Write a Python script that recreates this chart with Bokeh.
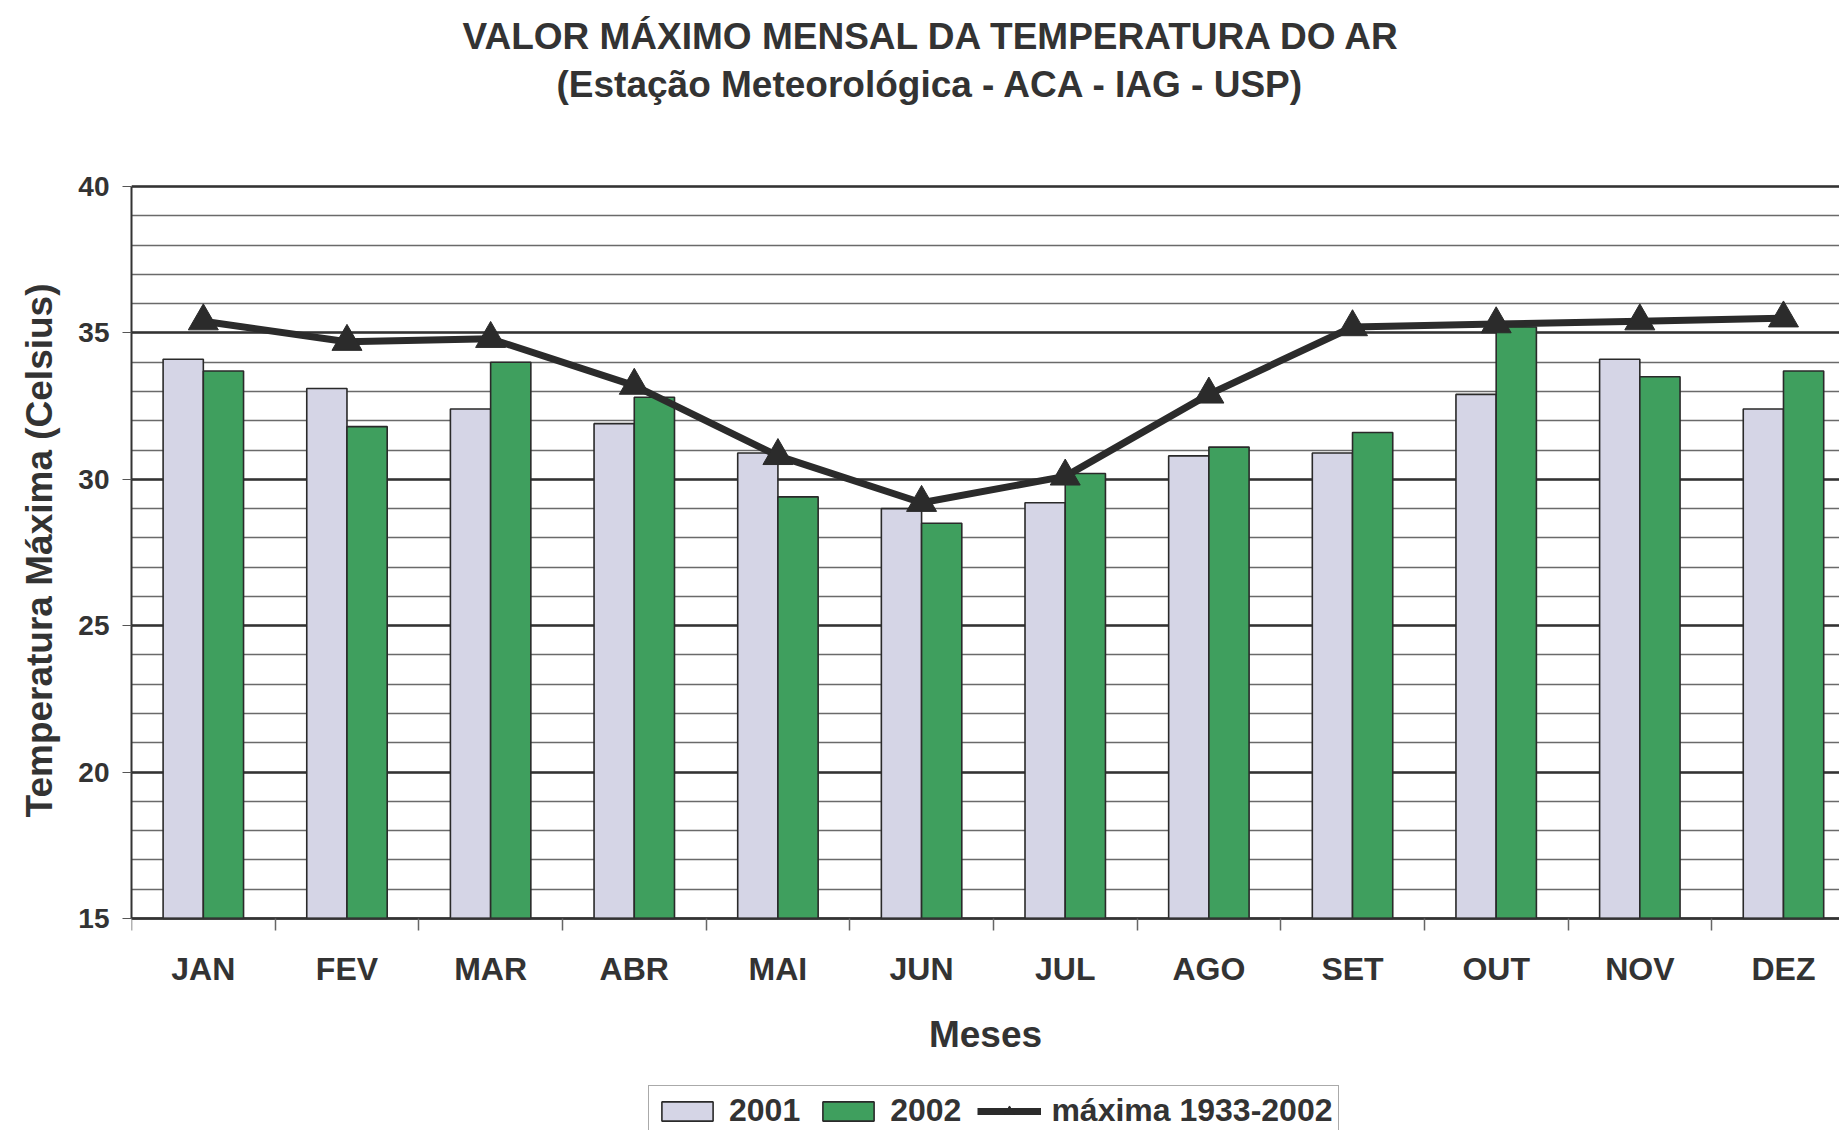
from bokeh.plotting import figure
from bokeh.models import (Range1d, FixedTicker, Legend, LegendItem, Title, ColumnDataSource,
                          LinearAxis)
from bokeh.embed import file_html
from bokeh.resources import INLINE

# ---- data ----
months = ["JAN", "FEV", "MAR", "ABR", "MAI", "JUN", "JUL", "AGO", "SET", "OUT", "NOV", "DEZ"]
t2001 = [34.1, 33.1, 32.4, 31.9, 30.9, 29.0, 29.2, 30.8, 30.9, 32.9, 34.1, 32.4]
t2002 = [33.7, 31.8, 34.0, 32.8, 29.4, 28.5, 30.2, 31.1, 31.6, 35.2, 33.5, 33.7]
tmax_1933_2002 = [35.4, 34.7, 34.8, 33.2, 30.8, 29.2, 30.1, 32.9, 35.2, 35.3, 35.4, 35.5]
y_ticks = [15, 20, 25, 30, 35, 40]
title_line1 = "VALOR MÁXIMO MENSAL DA TEMPERATURA DO AR"
title_line2 = "(Estação Meteorológica - ACA - IAG - USP)"
y_label = "Temperatura Máxima (Celsius)"
x_label = "Meses"

# ---- styling / layout ----
FONT = "Liberation Sans"
TXT = "#333333"
GRAY_BAR = "#d5d5e6"
GREEN_BAR = "#3f9f5e"
LINE_C = "#2b2b2b"

W, H = 1839, 1130
LEFT = 131
TOP40 = 186              # pixel row of y = 40
AXIS_PX = 918            # pixel row of y = 15
PAD_TOP = 3              # a few px above the 40 line so it is fully drawn
y_start, y_end = y_ticks[0], y_ticks[-1]
px_per_unit = (AXIS_PX - TOP40) / (y_end - y_start)
y_hi = y_end + PAD_TOP / px_per_unit
y_lo = y_end - (H - TOP40) / px_per_unit   # frame extends below the axis to hold the legend

n = len(months)
centers = [i + 0.5 for i in range(n)]
bar_w = 0.28
src = ColumnDataSource(dict(
    x1=[c - bar_w / 2 for c in centers],
    x2=[c + bar_w / 2 for c in centers],
    xc=centers,
    a=t2001, b=t2002, m=tmax_1933_2002,
))

p = figure(width=W, height=H, output_backend="svg", toolbar_location=None,
           x_range=Range1d(0, 11.89), y_range=Range1d(y_lo, y_hi),
           x_axis_location=None,
           min_border_left=LEFT, min_border_right=0, min_border_top=TOP40 - PAD_TOP,
           min_border_bottom=0,
           background_fill_color="white", border_fill_color="white")

p.outline_line_color = None

r1 = p.vbar(x="x1", top="a", bottom=y_start, width=bar_w, source=src,
            fill_color=GRAY_BAR, line_color="#2a2a2a", line_width=1.6)
r2 = p.vbar(x="x2", top="b", bottom=y_start, width=bar_w, source=src,
            fill_color=GREEN_BAR, line_color="#2a2a2a", line_width=1.6)
r3 = p.line(x="xc", y="m", source=src, line_width=7, line_color=LINE_C)
r4 = p.scatter(x="xc", y="m", source=src, marker="triangle", size=30,
               fill_color=LINE_C, line_color=LINE_C)

# grid
p.xgrid.grid_line_color = None
p.ygrid.ticker = FixedTicker(ticks=y_ticks, minor_ticks=list(range(y_start, y_end + 1)))
p.ygrid.grid_line_color = "#333333"
p.ygrid.grid_line_width = 2.5
p.ygrid.minor_grid_line_color = "#6a6a6a"
p.ygrid.minor_grid_line_width = 1.5
p.ygrid.level = "underlay"

# y axis
ya = p.yaxis[0]
ya.ticker = FixedTicker(ticks=y_ticks)
ya.bounds = (y_start, y_end)
ya.axis_line_color = "#333333"
ya.axis_line_width = 2
ya.major_tick_line_color = "#555555"
ya.major_tick_out = 9
ya.major_tick_in = 0
ya.minor_tick_line_color = None
ya.major_label_text_font = FONT
ya.major_label_text_font_style = "bold"
ya.major_label_text_font_size = "28px"
ya.major_label_text_color = TXT
ya.major_label_standoff = 13

# y axis title, positioned along the 15..40 span
ytitle = Title(text=y_label, align="right", offset=100, standoff=31,
               text_font=FONT, text_font_style="bold", text_font_size="37px", text_color=TXT)
p.add_layout(ytitle, "left")

# x axis, fixed at y = 15
xa = LinearAxis(fixed_location=y_start,
                ticker=FixedTicker(ticks=centers, minor_ticks=list(range(n + 1))))
xa.major_label_overrides = {c: m for c, m in zip(centers, months)}
xa.axis_line_color = "#333333"
xa.axis_line_width = 2
xa.major_tick_line_color = None
xa.minor_tick_line_color = "#666666"
xa.minor_tick_line_width = 1.5
xa.minor_tick_out = 12
xa.minor_tick_in = 0
xa.major_label_text_font = FONT
xa.major_label_text_font_style = "bold"
xa.major_label_text_font_size = "32px"
xa.major_label_text_color = TXT
xa.major_label_standoff = 20
xa.axis_label = x_label
xa.axis_label_text_font = FONT
xa.axis_label_text_font_style = "bold"
xa.axis_label_text_font_size = "37px"
xa.axis_label_text_color = TXT
xa.axis_label_standoff = 24
p.add_layout(xa, "below")

# titles (spacer, line 2, line 1 stacked outward)
spacer = Title(text=" ", standoff=76 - PAD_TOP, text_font_size="1px")
t2 = Title(text=title_line2, align="left", offset=425, standoff=5,
           text_font=FONT, text_font_style="bold", text_font_size="37px", text_color=TXT)
t1 = Title(text=title_line1, align="left", offset=331, standoff=5,
           text_font=FONT, text_font_style="bold", text_font_size="37px", text_color=TXT)
p.add_layout(spacer, "above")
p.add_layout(t2, "above")
p.add_layout(t1, "above")

# legend (inside the frame, below the axis)
legend = Legend(items=[
    LegendItem(label="2001", renderers=[r1]),
    LegendItem(label="2002", renderers=[r2]),
    LegendItem(label="máxima 1933-2002", renderers=[r3, r4]),
], orientation="horizontal", location=(517, -6))
legend.margin = 0
legend.label_text_font = FONT
legend.label_text_font_style = "bold"
legend.label_text_font_size = "32px"
legend.label_text_color = TXT
legend.glyph_width = 64
legend.glyph_height = 24
legend.label_standoff = 10
legend.spacing = 16
legend.padding = 6
legend.border_line_color = "#555555"
legend.border_line_width = 1.5
legend.background_fill_color = "white"
legend.background_fill_alpha = 1.0
p.add_layout(legend, "center")

open("out.html", "w").write(file_html(p, INLINE))
